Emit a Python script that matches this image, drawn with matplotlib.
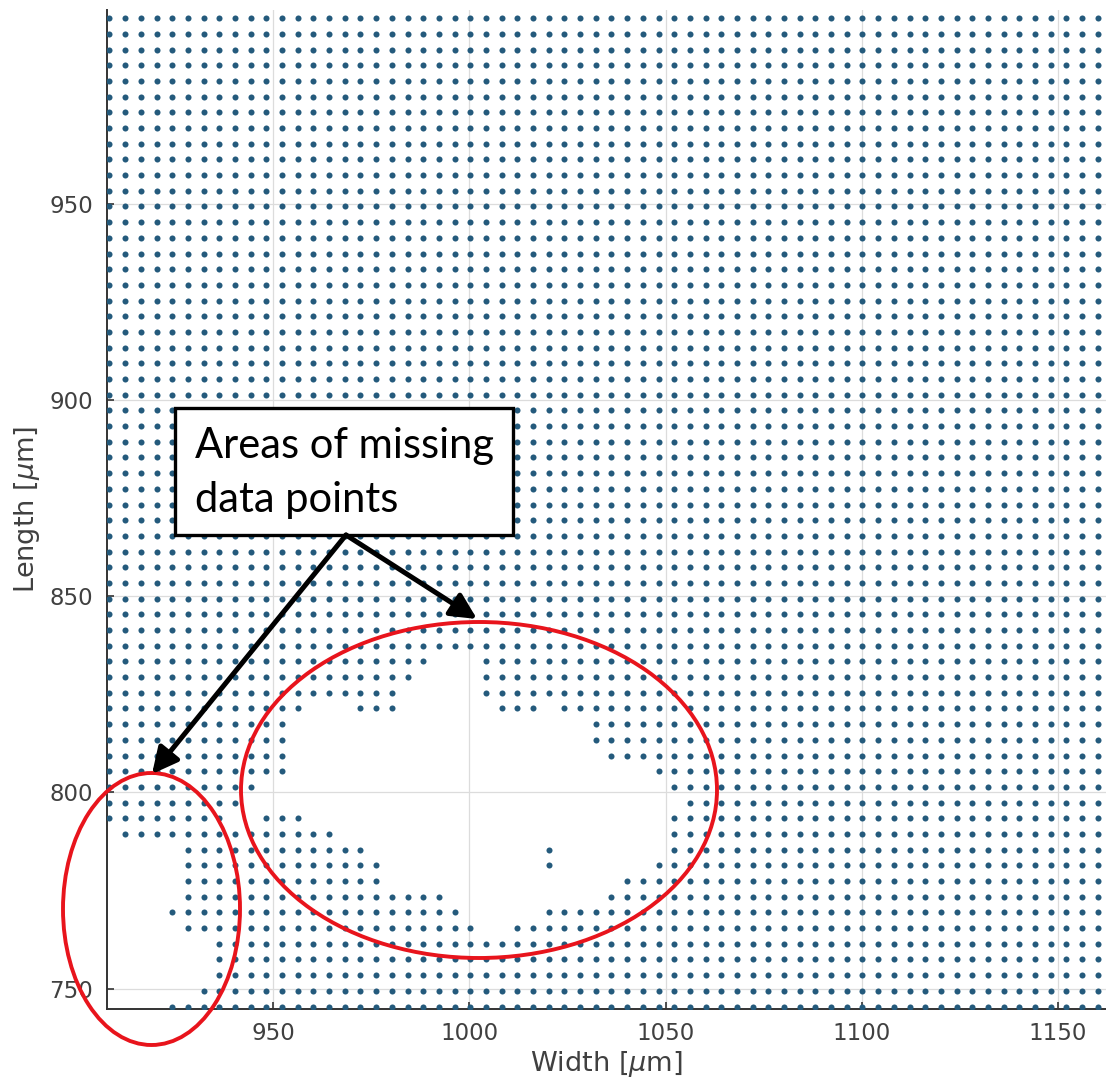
import matplotlib
matplotlib.use("Agg")
import matplotlib.pyplot as plt
from matplotlib.patches import Ellipse, Rectangle

# Measurement grid: column (width) and row (length) positions in micrometres
width_um = [908.2, 912.2, 916.2, 920.2, 924.2, 928.2, 932.2, 936.2, 940.2, 944.2,
            948.2, 952.2, 956.2, 960.2, 964.2, 968.2, 972.2, 976.2, 980.2, 984.2,
            988.2, 992.2, 996.2, 1000.2, 1004.2, 1008.2, 1012.2, 1016.2, 1020.2, 1024.2,
            1028.2, 1032.2, 1036.2, 1040.2, 1044.2, 1048.2, 1052.2, 1056.2, 1060.2, 1064.2,
            1068.2, 1072.2, 1076.2, 1080.2, 1084.2, 1088.2, 1092.2, 1096.2, 1100.2, 1104.2,
            1108.2, 1112.2, 1116.2, 1120.2, 1124.2, 1128.2, 1132.2, 1136.2, 1140.2, 1144.2,
            1148.2, 1152.2, 1156.2, 1160.2]
length_um = [745.4, 749.4, 753.4, 757.4, 761.4, 765.4, 769.4, 773.4, 777.4, 781.4,
             785.4, 789.4, 793.4, 797.4, 801.4, 805.4, 809.4, 813.4, 817.4, 821.4,
             825.4, 829.4, 833.4, 837.4, 841.4, 845.4, 849.4, 853.4, 857.4, 861.4,
             865.4, 869.4, 873.4, 877.4, 881.4, 885.4, 889.4, 893.4, 897.4, 901.4,
             905.4, 909.4, 913.4, 917.4, 921.4, 925.4, 929.4, 933.4, 937.4, 941.4,
             945.4, 949.4, 953.4, 957.4, 961.4, 965.4, 969.4, 973.4, 977.4, 981.4,
             985.4, 989.4, 993.4, 997.4]

# Runs of grid sites without a measurement: (row index, first column, last column)
gap_runs = [
    (0, 0, 3), (1, 0, 5), (2, 0, 6), (3, 0, 6), (4, 0, 6),
    (5, 0, 4), (5, 24, 25),
    (6, 0, 3), (6, 23, 27),
    (7, 0, 4), (7, 22, 31),
    (8, 0, 4), (8, 18, 32),
    (9, 0, 4), (9, 18, 27), (9, 29, 34),
    (10, 0, 4), (10, 17, 27), (10, 29, 35),
    (11, 0, 0), (11, 15, 35),
    (12, 8, 9), (12, 13, 35),
    (13, 9, 36),
    (14, 10, 35),
    (15, 12, 34),
    (16, 12, 31),
    (17, 12, 30),
    (18, 12, 30),
    (19, 13, 15), (19, 19, 24), (19, 28, 28),
    (20, 19, 23),
    (21, 20, 23),
    (22, 21, 23),
]

x_ticks = [950, 1000, 1050, 1100, 1150]
y_ticks = [750, 800, 850, 900, 950]

missing = set()
for row, c_first, c_last in gap_runs:
    for col in range(c_first, c_last + 1):
        missing.add((row, col))

xs, ys = [], []
for r, yv in enumerate(length_um):
    for c, xv in enumerate(width_um):
        if (r, c) not in missing:
            xs.append(xv)
            ys.append(yv)

W, H = 1106, 1090
fig = plt.figure(figsize=(W / 100, H / 100), dpi=100)
fig.patch.set_facecolor("white")

ax = fig.add_axes([106.7 / W, (H - 1009.3) / H, (W - 106.7) / W, (1009.3 - 10) / H])
ax.scatter(xs, ys, s=19, color="#245a7c", linewidths=0, zorder=3)

ax.set_xlim(907.5, 1162.3)
ax.set_ylim(744.7, 999.5)
ax.set_xticks(x_ticks)
ax.set_yticks(y_ticks)
ax.grid(True, color="#dcdcdc", linewidth=0.9, zorder=0)
ax.set_axisbelow(True)
for side in ("top", "right"):
    ax.spines[side].set_visible(False)
for side in ("left", "bottom"):
    ax.spines[side].set_color("#333333")
    ax.spines[side].set_linewidth(1.4)
ax.tick_params(direction="in", length=5, width=1.2, color="#333333",
               labelsize=16.5, labelcolor="#404040")
ax.tick_params(axis="x", pad=9)
ax.tick_params(axis="y", pad=10)
ax.set_xlabel(r"Width [$\mu$m]", fontsize=19.5, color="#404040", labelpad=3)
ax.set_ylabel(r"Length [$\mu$m]", fontsize=19.5, color="#404040", labelpad=5)

# Callout layer in pixel coordinates (origin top-left)
ov = fig.add_axes([0, 0, 1, 1])
ov.set_xlim(0, W)
ov.set_ylim(H, 0)
ov.axis("off")
ov.patch.set_alpha(0)

red = "#e8141c"
ov.add_patch(Ellipse((151.5, 909), 177, 272, fill=False, ec=red, lw=2.8, zorder=5))
ov.add_patch(Ellipse((479, 790), 476, 336, fill=False, ec=red, lw=2.8, zorder=5))

ov.add_patch(Rectangle((175, 407.7), 338.3, 127.3, facecolor="white",
                       edgecolor="black", lw=2.4, zorder=6))
ov.text(195, 473, "Areas of missing\ndata points", fontsize=30, family="Lato",
        va="center", ha="left", color="black", linespacing=1.5, zorder=7)

tail = (346, 535)
for tip in [(152, 774), (477, 619)]:
    ov.annotate("", xy=tip, xytext=tail,
                arrowprops=dict(arrowstyle="-|>,head_length=0.6,head_width=0.3",
                                color="black", lw=3.6, mutation_scale=26,
                                shrinkA=0, shrinkB=0),
                zorder=8)

fig.savefig("out.png", dpi=100)
